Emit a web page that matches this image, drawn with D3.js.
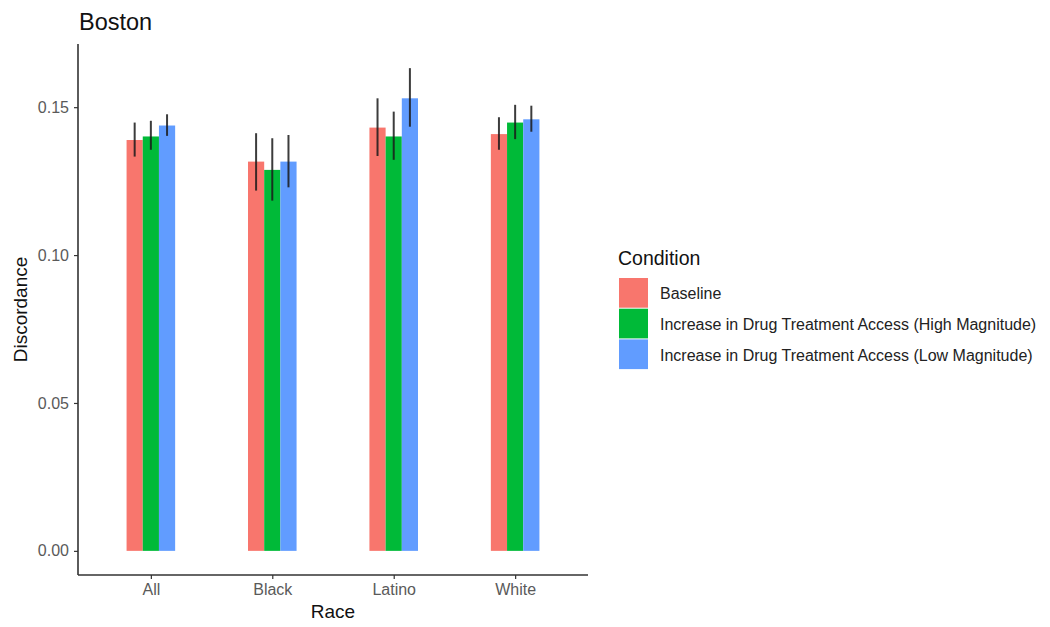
<!DOCTYPE html>
<html>
<head>
<meta charset="utf-8">
<script src="https://cdn.jsdelivr.net/npm/d3@7"></script>
<style>
  html, body { margin: 0; padding: 0; background: #fff; }
  svg { display: block; font-family: "Liberation Sans", Arial, Helvetica, sans-serif; }
</style>
</head>
<body>
<svg id="chart" width="1050" height="627"></svg>
<script>
// ---- Data ----
const races = ["All", "Black", "Latino", "White"];
const conditions = [
  "Baseline",
  "Increase in Drug Treatment Access (High Magnitude)",
  "Increase in Drug Treatment Access (Low Magnitude)"
];
const colors = ["#F8766D", "#00BA38", "#619CFF"];
// mean discordance per race, one array per condition
const baselineMean = [0.1389, 0.1316, 0.1431, 0.1409];
const highMean     = [0.1401, 0.1288, 0.1401, 0.1448];
const lowMean      = [0.1438, 0.1316, 0.1530, 0.1459];
// error bar bounds
const baselineLow  = [0.1333, 0.1218, 0.1335, 0.1356];
const baselineHigh = [0.1448, 0.1412, 0.1530, 0.1466];
const highLow      = [0.1356, 0.1184, 0.1322, 0.1392];
const highHigh     = [0.1454, 0.1395, 0.1485, 0.1508];
const lowLow       = [0.1403, 0.1229, 0.1434, 0.1417];
const lowHigh      = [0.1476, 0.1406, 0.1632, 0.1505];
const yTicks = [0, 0.05, 0.10, 0.15];

const means = [baselineMean, highMean, lowMean];
const lows = [baselineLow, highLow, lowLow];
const highs = [baselineHigh, highHigh, lowHigh];

const rows = [];
races.forEach((r, i) => {
  conditions.forEach((c, j) => {
    rows.push({race: r, cond: c, ci: j, v: means[j][i], lo: lows[j][i], hi: highs[j][i]});
  });
});

// ---- Layout ----
const svg = d3.select("#chart");
const panel = {left: 78, right: 588, top: 44, bottom: 575};

const maxV = d3.max(rows, d => d.hi);
const ext = maxV * 0.05;
const y = d3.scaleLinear().domain([-ext, maxV + ext]).range([panel.bottom, panel.top]);
const x = d3.scalePoint().domain(races).range([panel.left, panel.right]).padding(0.6);
const groupW = x.step() * 0.4;
const xi = d3.scaleBand().domain(conditions).range([-groupW / 2, groupW / 2]).padding(0);
const color = d3.scaleOrdinal().domain(conditions).range(colors);

// bars
svg.append("g").selectAll("rect").data(rows).join("rect")
  .attr("x", d => x(d.race) + xi(d.cond))
  .attr("width", xi.bandwidth())
  .attr("y", d => y(d.v))
  .attr("height", d => y(0) - y(d.v))
  .attr("fill", d => color(d.cond));

// error bars
svg.append("g").selectAll("line").data(rows).join("line")
  .attr("x1", d => x(d.race) + xi(d.cond) + xi.bandwidth() / 2)
  .attr("x2", d => x(d.race) + xi(d.cond) + xi.bandwidth() / 2)
  .attr("y1", d => y(d.lo))
  .attr("y2", d => y(d.hi))
  .attr("stroke", "#1a1a1a")
  .attr("stroke-opacity", 0.85)
  .attr("stroke-width", 2);

// axes
const yAxis = svg.append("g")
  .attr("transform", `translate(${panel.left},0)`)
  .call(d3.axisLeft(y).tickValues(yTicks).tickFormat(d3.format(".2f")).tickSize(4).tickPadding(5));
const xAxis = svg.append("g")
  .attr("transform", `translate(0,${panel.bottom})`)
  .call(d3.axisBottom(x).tickSize(4).tickPadding(5));
[yAxis, xAxis].forEach(a => {
  a.select(".domain").attr("stroke", "#333").attr("stroke-width", 1.6);
  a.selectAll(".tick line").attr("stroke", "#333").attr("stroke-width", 1.2);
  a.selectAll(".tick text").attr("fill", "#5a5a5a").style("font-size", "16px")
    .style("font-family", "'Liberation Sans', Arial, sans-serif");
});
yAxis.select(".domain").attr("d", `M-0,${panel.top}V${panel.bottom}`);
xAxis.select(".domain").attr("d", `M${panel.left},0H${panel.right}`);

// titles
svg.append("text").attr("x", 79).attr("y", 30)
  .style("font-size", "23.5px").attr("fill", "#111").text("Boston");
svg.append("text")
  .attr("transform", `translate(27,${(panel.top + panel.bottom) / 2}) rotate(-90)`)
  .attr("text-anchor", "middle").style("font-size", "19px").attr("fill", "#111")
  .text("Discordance");
svg.append("text").attr("x", (panel.left + panel.right) / 2).attr("y", 618)
  .attr("text-anchor", "middle").style("font-size", "19px").attr("fill", "#111")
  .text("Race");

// legend
const lg = svg.append("g").attr("transform", "translate(619,0)");
lg.append("text").attr("x", -1).attr("y", 265).style("font-size", "19.5px").attr("fill", "#111")
  .text("Condition");
const keyH = 30.7;
const items = lg.selectAll("g.item").data(conditions).join("g")
  .attr("class", "item")
  .attr("transform", (d, i) => `translate(0,${278 + i * keyH})`);
items.append("rect").attr("width", 29).attr("height", keyH - 1)
  .attr("fill", d => color(d));
items.append("text").attr("x", 41).attr("y", keyH / 2 + 6)
  .style("font-size", "16px").attr("fill", "#222").text(d => d);
</script>
</body>
</html>
